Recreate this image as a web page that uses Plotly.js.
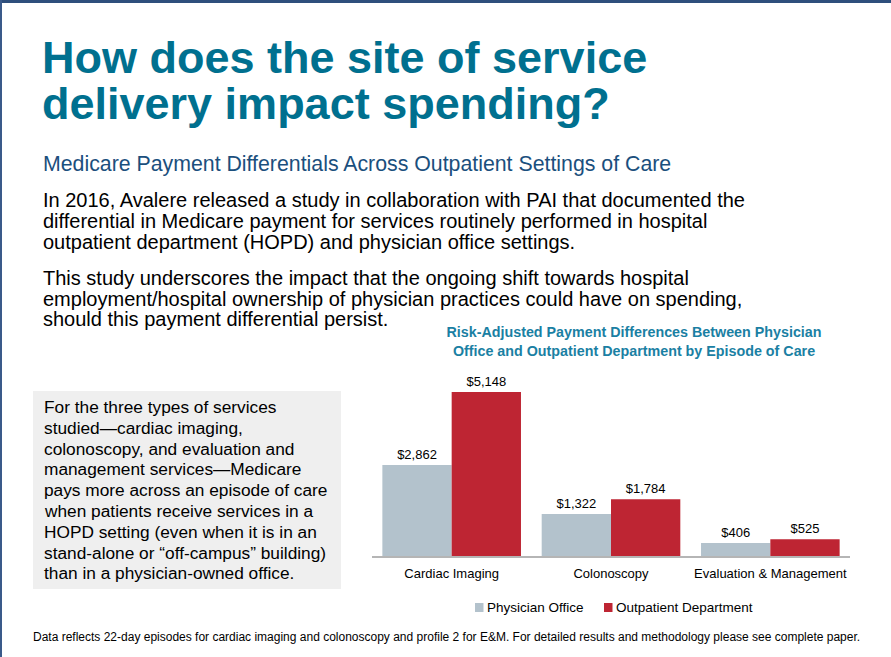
<!DOCTYPE html>
<html>
<head>
<meta charset="utf-8">
<script src="https://cdn.plot.ly/plotly-3.0.1.min.js"></script>
<style>
html,body{margin:0;padding:0;background:#fff;}
#chart{width:891px;height:657px;}
</style>
</head>
<body>
<div id="chart"></div>
<script>
// ---- data ----
const categories = ["Cardiac Imaging", "Colonoscopy", "Evaluation & Management"];
const physicianOffice = [2862, 1322, 406];
const outpatientDept = [5148, 1784, 525];
const seriesNames = ["Physician Office", "Outpatient Department"];
const seriesColors = ["#b3c2cc", "#be2533"];

const chartTitleLines = ["Risk-Adjusted Payment Differences Between Physician",
                         "Office and Outpatient Department by Episode of Care"];
const slideTitleLines = ["How does the site of service", "delivery impact spending?"];
const subtitle = "Medicare Payment Differentials Across Outpatient Settings of Care";
const bodyLines = [
  "In 2016, Avalere released a study in collaboration with PAI that documented the",
  "differential in Medicare payment for services routinely performed in hospital",
  "outpatient department (HOPD) and physician office settings.",
  "This study underscores the impact that the ongoing shift towards hospital",
  "employment/hospital ownership of physician practices could have on spending,",
  "should this payment differential persist."
];
const boxLines = [
  "For the three types of services",
  "studied\u2014cardiac imaging,",
  "colonoscopy, and evaluation and",
  "management services\u2014Medicare",
  "pays more across an episode of care",
  "when patients receive services in a",
  "HOPD setting (even when it is in an",
  "stand-alone or \u201coff-campus\u201d building)",
  "than in a physician-owned office."
];
const footnote = "Data reflects 22-day episodes for cardiac imaging and colonoscopy and profile 2 for E&M. For detailed results and methodology please see complete paper.";

// ---- layout geometry (pixels) ----
const W = 891, H = 657;
const M = {l: 372, r: 41, t: 365, b: 101};
const PW = W - M.l - M.r, PH = H - M.t - M.b;
const px = x => (x - M.l) / PW;
const py = y => (H - M.b - y) / PH;
const FONT = '"Liberation Sans", Arial, Helvetica, sans-serif';

const annotations = [];
function line(text, x, y, size, color, bold, anchor) {
  annotations.push({
    text: bold ? '<b>' + text + '</b>' : text,
    xref: 'paper', yref: 'paper', x: px(x), y: py(y),
    xanchor: anchor || 'left', yanchor: 'middle', showarrow: false,
    font: {family: FONT, size: size, color: color}
  });
}
slideTitleLines.forEach((t, i) => line(t, 40, [57.5, 103.5][i], 45, '#00708f', true));
line(subtitle, 41, 164, 21.3, '#1b4f7d', false);
const bodyY = [200, 221, 241.5, 277.5, 298.5, 318.5];
bodyLines.forEach((t, i) => line(t, 41, bodyY[i], 20, '#000', false));
boxLines.forEach((t, i) => line(t, 42, 407 + i * 20.8, 17.3, '#000', false));
line(footnote, 446, 637, 12, '#000', false, 'center');

// legend (compact, as in the reference)
const legendX = [[475, 485], [604, 614]];
const shapes = [
  {type: 'rect', xref: 'paper', yref: 'paper', x0: px(33), x1: px(341), y0: py(391), y1: py(589),
   fillcolor: '#efefef', line: {width: 0}, layer: 'below'},
  {type: 'rect', xref: 'paper', yref: 'paper', x0: px(0), x1: px(891), y0: py(0), y1: py(3),
   fillcolor: '#2e4f7c', line: {width: 0}},
  {type: 'rect', xref: 'paper', yref: 'paper', x0: px(0), x1: px(2), y0: py(0), y1: py(657),
   fillcolor: '#3a5a8a', line: {width: 0}}
];
seriesNames.forEach((n, i) => {
  shapes.push({type: 'rect', xref: 'paper', yref: 'paper',
    x0: px(legendX[i][0]), x1: px(legendX[i][0] + 8.5), y0: py(603), y1: py(612),
    fillcolor: seriesColors[i], line: {width: 0}});
  line(n, legendX[i][1], 607, 13.5, '#000', false);
});

const traces = [
  {type: 'bar', name: seriesNames[0], x: categories, y: physicianOffice,
   marker: {color: seriesColors[0]}, texttemplate: '$%{y:,.0f}', textposition: 'outside',
   textfont: {family: FONT, size: 13, color: '#000'}, cliponaxis: false, hoverinfo: 'none'},
  {type: 'bar', name: seriesNames[1], x: categories, y: outpatientDept,
   marker: {color: seriesColors[1]}, texttemplate: '$%{y:,.0f}', textposition: 'outside',
   textfont: {family: FONT, size: 13, color: '#000'}, cliponaxis: false, hoverinfo: 'none'}
];

const layout = {
  width: W, height: H,
  margin: M,
  paper_bgcolor: '#fff', plot_bgcolor: 'rgba(0,0,0,0)',
  font: {family: FONT, color: '#000'},
  barmode: 'group', bargap: 0.13, bargroupgap: 0,
  title: {
    text: '<b>' + chartTitleLines.join('<br>') + '</b>',
    font: {family: FONT, size: 14.3, color: '#1a80a3'},
    x: 634 / W, xanchor: 'center', xref: 'container',
    y: 1 - 337 / H, yanchor: 'middle', yref: 'container'
  },
  xaxis: {
    type: 'category', range: [-0.5, 2.5], showline: true, linecolor: '#b5b5b5', linewidth: 2,
    ticks: '', showgrid: false, zeroline: false, fixedrange: true, ticklabelstandoff: 4,
    tickfont: {family: FONT, size: 13, color: '#000'}
  },
  yaxis: {range: [0, 6000], visible: false, showgrid: false, zeroline: false, fixedrange: true},
  showlegend: false,
  annotations: annotations,
  shapes: shapes
};

Plotly.newPlot('chart', traces, layout, {displayModeBar: false, staticPlot: true});
</script>
</body>
</html>
